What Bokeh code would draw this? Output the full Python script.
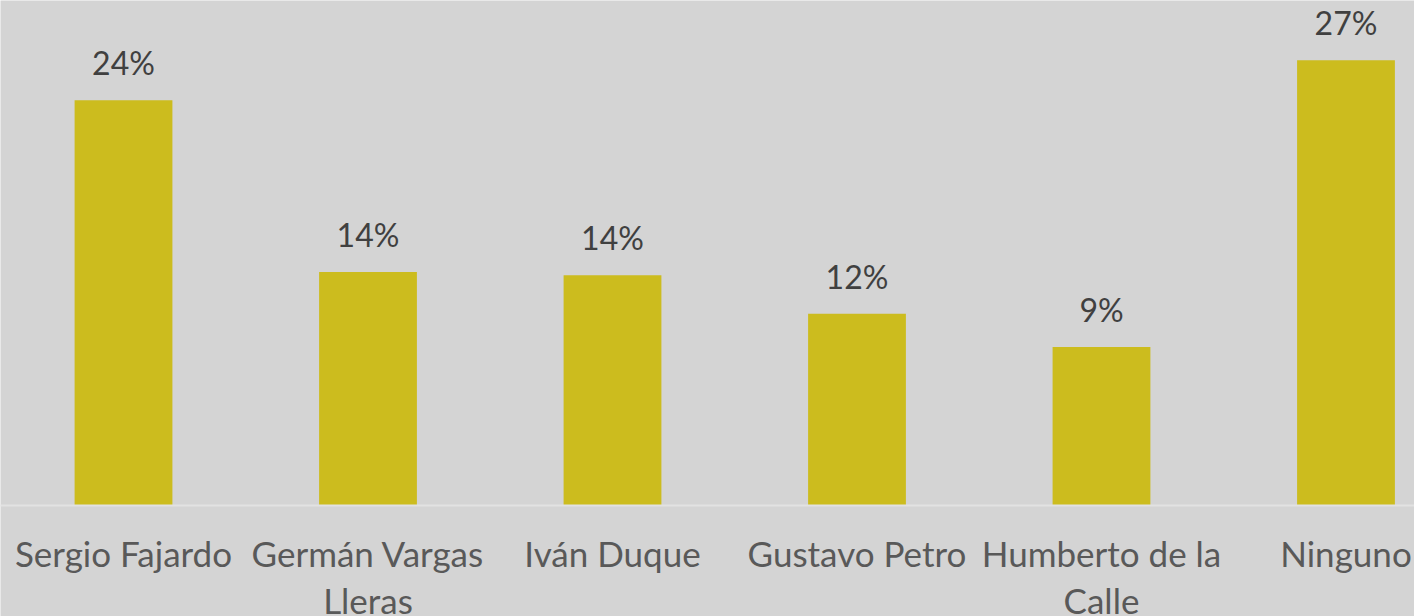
from bokeh.plotting import figure
from bokeh.models import Range1d, ColumnDataSource, Span
from bokeh.core.properties import value
from bokeh.embed import file_html
from bokeh.resources import INLINE

categories = ["Sergio Fajardo", "Germán Vargas\nLleras", "Iván Duque",
              "Gustavo Petro", "Humberto de la\nCalle", "Ninguno"]
values = [24.3, 14.0, 13.8, 11.5, 9.5, 26.7]
labels = ["24%", "14%", "14%", "12%", "9%", "27%"]

BG = "#D4D4D4"
BAR = "#CCBC1E"
FONT = "Lato"

xs = list(range(len(categories)))
src = ColumnDataSource(dict(x=xs, top=values, lab=labels, zero=[0] * len(xs), cat=categories))

p = figure(width=1414, height=616, output_backend="svg", toolbar_location=None,
           x_range=Range1d(-0.5031, 5.2802), y_range=Range1d(-6.655, 30.276),
           min_border_left=0, min_border_right=0, min_border_top=0, min_border_bottom=0)
p.background_fill_color = BG
p.border_fill_color = BG
p.outline_line_color = None
p.grid.visible = False
p.axis.visible = False

p.vbar(x="x", top="top", width=0.4, bottom=0, source=src, fill_color=BAR, line_color=None)
p.add_layout(Span(location=0, dimension="width", line_color="#E2E2E2", line_width=2))

p.text(x="x", y="top", text="lab", source=src, text_align="center", text_baseline="bottom",
       y_offset=-18, text_font=value(FONT), text_font_size="32px", text_color="#404040")
p.text(x="x", y="zero", text="cat", source=src, text_align="center", text_baseline="top",
       y_offset=27, text_font=value(FONT), text_font_size="35px", text_color="#595959",
       text_line_height=1.1)

open("out.html", "w").write(file_html(p, INLINE))
